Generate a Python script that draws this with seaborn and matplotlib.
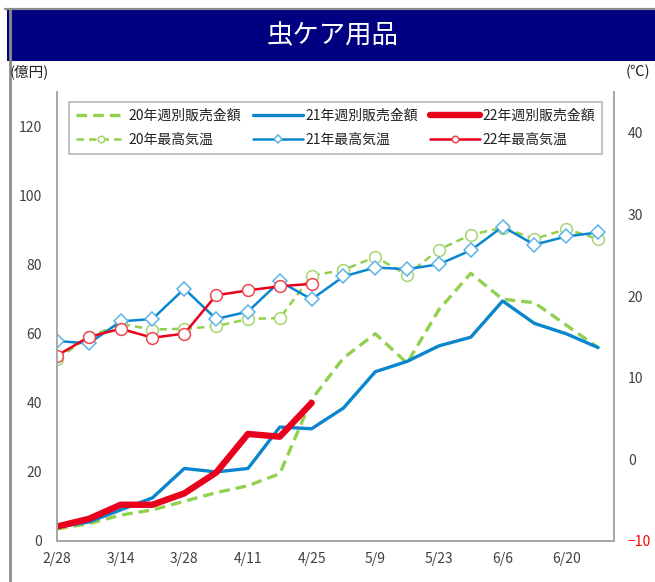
#!/usr/bin/python3

import numpy as np
import matplotlib
matplotlib.use("Agg")
import matplotlib.pyplot as plt
import seaborn as sns
from matplotlib.patches import Rectangle
from matplotlib.lines import Line2D

weeks = ["2/28", "3/7", "3/14", "3/21", "3/28", "4/4", "4/11", "4/18", "4/25",
         "5/2", "5/9", "5/16", "5/23", "5/30", "6/6", "6/13", "6/20", "6/27"]

# 週別販売金額 (億円)
sales_20 = [3.5, 5.0, 7.5, 9.0, 11.5, 14.0, 16.0, 19.5, 41.0,
            53.0, 60.0, 51.5, 67.0, 77.5, 70.0, 69.0, 62.5, 56.0]
sales_21 = [4.0, 5.5, 9.0, 12.5, 21.0, 20.0, 21.0, 33.0, 32.5,
            38.5, 49.0, 52.0, 56.5, 59.0, 69.5, 63.0, 60.0, 56.0]
sales_22 = [4.2, 6.4, 10.5, 10.5, 13.8, 19.8, 31.0, 30.2, 40.0]

# 最高気温 (℃)
temp_20 = [12.3, 15.0, 16.6, 15.9, 16.0, 16.3, 17.2, 17.3, 22.5,
           23.2, 24.8, 22.6, 25.7, 27.5, 28.4, 27.0, 28.2, 27.0]
temp_21 = [14.5, 14.2, 16.9, 17.2, 20.9, 17.2, 18.1, 21.8, 19.6,
           22.4, 23.5, 23.3, 23.9, 25.6, 28.5, 26.3, 27.3, 27.8]
temp_22 = [12.7, 15.0, 16.0, 14.9, 15.4, 20.1, 20.7, 21.2, 21.5]

title = "虫ケア用品"
left_label = "(億円)"
right_label = "(℃)"

GREEN = "#92D050"
BLUE = "#0A86CF"
RED = "#E8001C"
GRAY = "#A6A6A6"
TXT = "#404040"

sns.set_style("white")
plt.rcParams["font.family"] = ["Noto Sans CJK JP", "DejaVu Sans"]

fig = plt.figure(figsize=(6.55, 5.82), dpi=100)
fig.patch.set_facecolor("white")

# header bar and frame lines
fig.patches.append(Rectangle((7 / 655, 1 - 61 / 582), 1, 51 / 582, transform=fig.transFigure,
                             facecolor="#000080", edgecolor="none"))
fig.lines.append(Line2D([5 / 655, 1], [1 - 8.5 / 582, 1 - 8.5 / 582], transform=fig.transFigure,
                        color="#8C8C8C", lw=1.6))
fig.lines.append(Line2D([9.5 / 655, 9.5 / 655], [1 - 9 / 582, 0], transform=fig.transFigure,
                        color="#8C8C8C", lw=2))
fig.text(333 / 655, 1 - 36 / 582, title, color="white", fontsize=19, ha="center", va="center")
fig.text(10 / 655, 1 - 72 / 582, left_label, color="#222222", fontsize=10.5, ha="left", va="center")
fig.text(650 / 655, 1 - 72 / 582, right_label, color="#222222", fontsize=10.5, ha="right", va="center")

ax = fig.add_axes([57 / 655, 1 - 541 / 582, 557 / 655, 449 / 582])
x_all = np.arange(len(weeks))
x_22 = np.arange(len(sales_22))

sns.lineplot(x=x_all, y=sales_20, ax=ax, color=GREEN, lw=2.4, linestyle=(0, (3.2, 1.8)),
             label="20年週別販売金額")
sns.lineplot(x=x_all, y=sales_21, ax=ax, color=BLUE, lw=2.4, label="21年週別販売金額")
sns.lineplot(x=x_22, y=sales_22, ax=ax, color=RED, lw=4.6, label="22年週別販売金額")

ax.set_xlim(0, len(weeks) - 0.5)
ax.set_ylim(0, 130)
ax.set_yticks(np.arange(0, 121, 20))
ax.set_xticks(x_all)
ax.set_xticklabels([w if i % 2 == 0 else "" for i, w in enumerate(weeks)])
ax.tick_params(axis="x", length=5, color=GRAY, labelsize=10, labelcolor=TXT, pad=3, direction="out")
ax.tick_params(axis="y", length=0, labelsize=10, labelcolor=TXT, pad=11)
for s in ["left", "bottom", "right"]:
    ax.spines[s].set_color(GRAY)
    ax.spines[s].set_linewidth(1.2)
ax.spines["top"].set_visible(False)

ax2 = ax.twinx()
sns.lineplot(x=x_all, y=temp_20, ax=ax2, color=GREEN, lw=1.8, linestyle=(0, (3, 2)),
             marker="o", markersize=8.5, markerfacecolor="white", markeredgecolor="#A5D672",
             markeredgewidth=1.1, label="20年最高気温")
sns.lineplot(x=x_all, y=temp_21, ax=ax2, color=BLUE, lw=1.8,
             marker="D", markersize=7.5, markerfacecolor="white", markeredgecolor="#5DB3E8",
             markeredgewidth=1.1, label="21年最高気温")
sns.lineplot(x=x_22, y=temp_22, ax=ax2, color=RED, lw=1.8,
             marker="o", markersize=8.5, markerfacecolor="white", markeredgecolor="#F0454F",
             markeredgewidth=1.1, label="22年最高気温")
ax2.set_ylim(-10, 45)
ax2.set_yticks(np.arange(-10, 41, 10))
ax2.tick_params(axis="y", length=0, labelsize=10, labelcolor=TXT, pad=10)
ax2.get_yticklabels()[0].set_color("red")
for s in ["left", "bottom", "right"]:
    ax2.spines[s].set_color(GRAY)
    ax2.spines[s].set_linewidth(1.2)
ax2.spines["top"].set_visible(False)
ax2.set_ylabel("")
ax.set_ylabel("")

h1, l1 = ax.get_legend_handles_labels()
h2, l2 = ax2.get_legend_handles_labels()
ax.get_legend().remove()
ax2.get_legend().remove()
handles = [h1[0], h2[0], h1[1], h2[1], h1[2], h2[2]]
labels = [l1[0], l2[0], l1[1], l2[1], l1[2], l2[2]]
leg = ax2.legend(handles, labels, ncol=3, loc="upper left", mode="expand",
                 bbox_to_anchor=(0.009, 0.871, 0.982, 0.122), fontsize=10,
                 handlelength=3.6, handletextpad=0.2, markerscale=0.55,
                 fancybox=False, frameon=True, borderpad=0.5, labelspacing=0.7,
                 labelcolor="#222222")
leg.get_frame().set_edgecolor(GRAY)
leg.get_frame().set_linewidth(1.2)

fig.savefig("out.png", dpi=100, facecolor="white")
